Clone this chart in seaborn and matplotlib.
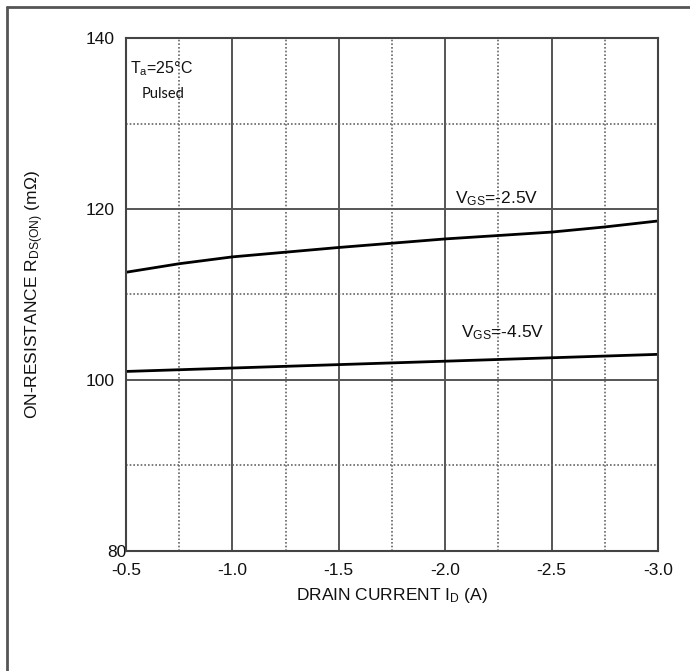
import pandas as pd
import matplotlib
matplotlib.use("Agg")
import matplotlib.pyplot as plt
import matplotlib.transforms as mtransforms
from matplotlib.lines import Line2D
from matplotlib.ticker import MultipleLocator
import seaborn as sns

# Values
drain_current = [-0.5, -0.75, -1.0, -1.5, -2.0, -2.5, -2.75, -3.0]
rds_vgs_25 = [112.6, 113.6, 114.4, 115.5, 116.5, 117.3, 117.9, 118.6]
rds_vgs_45 = [101.0, 101.2, 101.4, 101.8, 102.2, 102.6, 102.8, 103.0]

x_ticks = [-0.5, -1.0, -1.5, -2.0, -2.5, -3.0]
x_tick_labels = ["-0.5", "-1.0", "-1.5", "-2.0", "-2.5", "-3.0"]
y_ticks = [80, 100, 120, 140]

data = pd.DataFrame({
    "Drain_Current": drain_current * 2,
    "R_DS_on": rds_vgs_25 + rds_vgs_45,
    "VGS": ["-2.5V"] * len(drain_current) + ["-4.5V"] * len(drain_current),
})

sns.set_style("white")
plt.rcParams["font.family"] = ["Liberation Sans", "DejaVu Sans"]
plt.rcParams["mathtext.fontset"] = "custom"
plt.rcParams["mathtext.rm"] = "Liberation Sans"
plt.rcParams["mathtext.default"] = "regular"

fig = plt.figure(figsize=(6.9, 6.71), dpi=100)
ax = fig.add_axes([126 / 690, 1 - 551 / 671, 532 / 690, 513 / 671])

sns.lineplot(
    data=data,
    x="Drain_Current",
    y="R_DS_on",
    units="VGS",
    estimator=None,
    color="black",
    linewidth=2,
    legend=False,
    ax=ax,
)

ax.set_xlim(-0.5, -3.0)
ax.set_ylim(80, 140)
ax.set_xticks(x_ticks)
ax.set_xticklabels(x_tick_labels)
ax.set_yticks(y_ticks)
ax.xaxis.set_minor_locator(MultipleLocator(0.25))
ax.yaxis.set_minor_locator(MultipleLocator(10))

# Solid major grid, dotted minor grid
ax.grid(True, which="major", color="#555555", linewidth=1.4, linestyle="-")
ax.grid(True, which="minor", color="#666666", linewidth=1.2, linestyle=(0, (1, 1.2)))
ax.set_axisbelow(True)
ax.tick_params(which="both", length=0, labelsize=12.5, labelcolor="#111111")
ax.tick_params(axis="y", pad=8)
ax.tick_params(axis="x", pad=8.5)

for side in ax.spines.values():
    side.set_color("#444444")
    side.set_linewidth(1.5)

# "80" sits right against the axis in the original
for lbl in ax.get_yticklabels():
    if lbl.get_text() == "80":
        lbl.set_transform(lbl.get_transform() + mtransforms.ScaledTranslation(8 / 72, 0, fig.dpi_scale_trans))

ax.set_xlabel("DRAIN CURRENT I$_{D}$ (A)", fontsize=12.5, color="#111111", labelpad=6)
ax.set_ylabel("ON-RESISTANCE R$_{DS(ON)}$ (m\u03a9)", fontsize=12.5, color="#111111", labelpad=29)

# Curve labels
ax.text(-2.045, 121.2, "V$_{GS}$=-2.5V", fontsize=12.5, ha="left", va="center", color="#111111")
ax.text(-2.075, 105.5, "V$_{GS}$=-4.5V", fontsize=12.5, ha="left", va="center", color="#111111")

ax.text(0.008, 0.94, "T$_{a}$=25\u00b0C", transform=ax.transAxes, fontsize=11.5, ha="left", va="center", color="#111111")
ax.text(0.03, 0.89, "Pulsed", transform=ax.transAxes, fontsize=10.5, ha="left", va="center", color="#111111",
        family=["Lato", "DejaVu Sans"])

# Page frame (top and left edge)
fig.add_artist(Line2D([7 / 690, 1], [1 - 7.3 / 671, 1 - 7.3 / 671], transform=fig.transFigure, color="#555555", linewidth=2))
fig.add_artist(Line2D([7 / 690, 7 / 690], [0, 1 - 7.3 / 671], transform=fig.transFigure, color="#555555", linewidth=2))

fig.savefig("out.png", dpi=100, facecolor="white")
